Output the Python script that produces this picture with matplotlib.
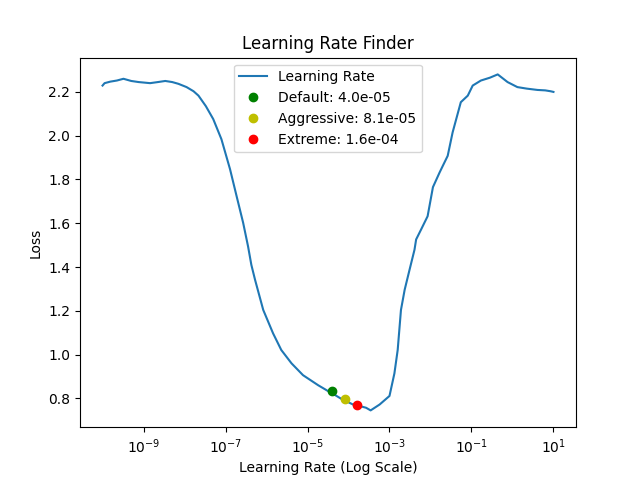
import numpy as np
import matplotlib
matplotlib.use('Agg')
import matplotlib.pyplot as plt

# curve (log10 of learning rate, loss)
log_lr = [-10.0, -9.95, -9.81, -9.65, -9.49, -9.3, -9.12, -8.84, -8.65, -8.47, -8.3, -8.15,
          -7.95, -7.78, -7.66, -7.48, -7.30, -7.10, -6.89, -6.73, -6.57, -6.45, -6.37,
          -6.28, -6.08, -5.84, -5.64, -5.39, -5.11, -4.74, -4.46, -4.30, -4.16, -4.00,
          -3.87, -3.77, -3.65, -3.57, -3.46, -3.24, -3.00, -2.88, -2.80, -2.72, -2.63,
          -2.51, -2.39, -2.35, -2.23, -2.07, -1.94, -1.78, -1.70, -1.58, -1.46, -1.26,
          -1.09, -0.97, -0.77, -0.55, -0.36, -0.12, 0.12, 0.35, 0.61, 0.80, 0.93, 1.0]
loss = [2.229, 2.240, 2.247, 2.252, 2.260, 2.250, 2.245, 2.240, 2.245, 2.250, 2.245, 2.237,
        2.222, 2.203, 2.183, 2.135, 2.076, 1.984, 1.847, 1.724, 1.602, 1.494, 1.410,
        1.342, 1.204, 1.097, 1.021, 0.960, 0.906, 0.860, 0.829, 0.812, 0.796, 0.782,
        0.770, 0.768, 0.761, 0.757, 0.745, 0.772, 0.811, 0.914, 1.021, 1.204, 1.296,
        1.388, 1.479, 1.526, 1.571, 1.632, 1.765, 1.831, 1.862, 1.908, 2.015, 2.153,
        2.183, 2.229, 2.252, 2.265, 2.280, 2.245, 2.222, 2.215, 2.209, 2.207, 2.203, 2.200]

lrs = 10 ** np.array(log_lr)

points = {'Default': (4.0e-05, 0.832), 'Aggressive': (8.1e-05, 0.796), 'Extreme': (1.6e-04, 0.770)}
point_styles = ['go', 'yo', 'ro']

fig = plt.figure(figsize=(6.4, 4.8), dpi=100)
plt.plot(lrs, loss, label='Learning Rate')
for (name, (lr, l)), st in zip(points.items(), point_styles):
    plt.plot(lr, l, st, label='%s: %.1e' % (name, lr))
plt.xscale('log')
plt.xlabel('Learning Rate (Log Scale)')
plt.ylabel('Loss')
plt.title('Learning Rate Finder')
plt.legend(loc='upper center')
fig.savefig('out.png')
